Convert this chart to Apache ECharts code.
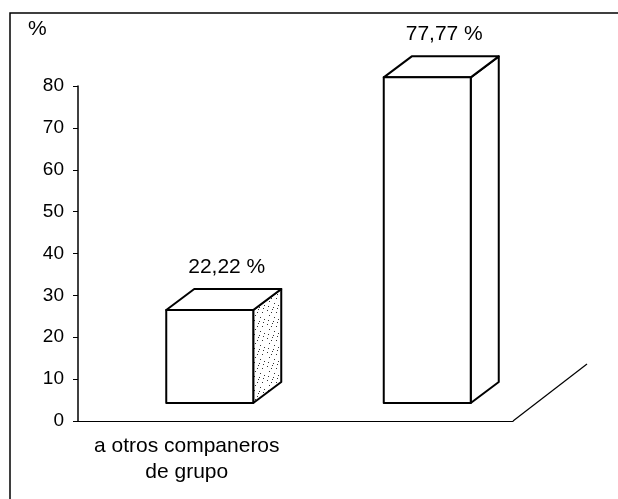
<!DOCTYPE html>
<html>
<head>
<meta charset="utf-8">
<script src="https://cdn.jsdelivr.net/npm/echarts@6/dist/echarts.min.js"></script>
<style>
  html, body { margin: 0; padding: 0; background: #fff; }
  #chart { width: 618px; height: 499px; }
</style>
</head>
<body>
<div id="chart"></div>
<script>
// data
const categories = ['a otros companeros\nde grupo', 'No venden']
const values = [22.22, 77.77]
const valueLabels = ['22,22 %', '77,77 %']
const yMin = 0
const yMax = 80
const yStep = 10

const FONT = '"Liberation Sans", Arial, sans-serif'
const FRONT = [23, -18]  // bar front face shift into the floor
const DEPTH = [28, -21]  // bar depth
const FLOOR = [74, -57]  // floor depth

// stippled side face
const dots = document.createElement('canvas')
dots.width = 14
dots.height = 14
const dctx = dots.getContext('2d')
dctx.fillStyle = '#fff'
dctx.fillRect(0, 0, 14, 14)
dctx.fillStyle = '#333'
;[[1, 2], [6, 1], [10, 4], [3, 7], [8, 9], [12, 11], [2, 12], [5, 4], [11, 0], [7, 13]].forEach(p => {
  dctx.fillRect(p[0], p[1], 1, 1)
})

const chart = echarts.init(document.getElementById('chart'))

function renderBar(params, api) {
  const base = api.coord([api.value(0), 0])
  const top = api.coord([api.value(0), api.value(1)])
  const band = api.size([1, 0])[0]
  const w = band * 0.4
  const x0 = base[0] - w / 2 + FRONT[0]
  const x1 = x0 + w
  const yb = base[1] + FRONT[1]
  const yt = top[1] + FRONT[1]
  const line = { stroke: '#000', lineWidth: 2, lineJoin: 'round' }
  const sideFill = params.dataIndex === 0 ? { image: dots, repeat: 'repeat' } : '#fff'
  const children = [
    {
      type: 'polygon',
      shape: { points: [[x1, yt], [x1 + DEPTH[0], yt + DEPTH[1]], [x1 + DEPTH[0], yb + DEPTH[1]], [x1, yb]] },
      style: Object.assign({ fill: sideFill }, line)
    },
    {
      type: 'polygon',
      shape: { points: [[x0, yt], [x0 + DEPTH[0], yt + DEPTH[1]], [x1 + DEPTH[0], yt + DEPTH[1]], [x1, yt]] },
      style: Object.assign({ fill: '#fff' }, line)
    },
    {
      type: 'rect',
      shape: { x: x0, y: yt, width: w, height: yb - yt },
      style: Object.assign({ fill: '#fff' }, line)
    },
    {
      type: 'text',
      style: {
        text: valueLabels[params.dataIndex],
        x: x0 + w / 2 + DEPTH[0] / 2 + 3,
        y: yt + DEPTH[1] - 22,
        align: 'center',
        verticalAlign: 'middle',
        fontSize: 21,
        fontFamily: FONT,
        fill: '#000'
      }
    }
  ]
  if (params.dataIndex === categories.length - 1) {
    const ex = base[0] + band / 2
    children.push({
      type: 'line',
      shape: { x1: ex, y1: base[1], x2: ex + FLOOR[0], y2: base[1] + FLOOR[1] },
      style: { stroke: '#000', lineWidth: 1.2 }
    })
  }
  return { type: 'group', children: children }
}

const option = {
  animation: false,
  backgroundColor: '#fff',
  grid: { left: 78, right: 105, top: 86, bottom: 78 },
  graphic: [
    {
      type: 'rect',
      silent: true,
      z: -10,
      shape: { x: 10, y: 13, width: 700, height: 600 },
      style: { fill: 'none', stroke: '#000', lineWidth: 1.5 }
    },
    {
      type: 'text',
      left: 28,
      top: 19,
      style: { text: '%', fontSize: 21, fontFamily: FONT, fill: '#000' }
    }
  ],
  xAxis: {
    type: 'category',
    data: categories,
    axisLine: { lineStyle: { color: '#000', width: 1.2 } },
    axisTick: { length: 5, lineStyle: { color: '#000' } },
    axisLabel: {
      color: '#000',
      fontSize: 21,
      fontFamily: FONT,
      lineHeight: 26,
      margin: 12
    },
    splitLine: { show: false }
  },
  yAxis: {
    type: 'value',
    min: yMin,
    max: yMax,
    interval: yStep,
    axisLine: { show: true, lineStyle: { color: '#000', width: 1.5 } },
    axisTick: { show: true, length: 5, lineStyle: { color: '#000' } },
    axisLabel: { color: '#000', fontSize: 19, fontFamily: FONT, margin: 14 },
    splitLine: { show: false }
  },
  series: [
    {
      type: 'custom',
      renderItem: renderBar,
      encode: { x: 0, y: 1 },
      data: categories.map((c, i) => [i, values[i]])
    }
  ]
}
chart.setOption(option)
</script>
</body>
</html>
